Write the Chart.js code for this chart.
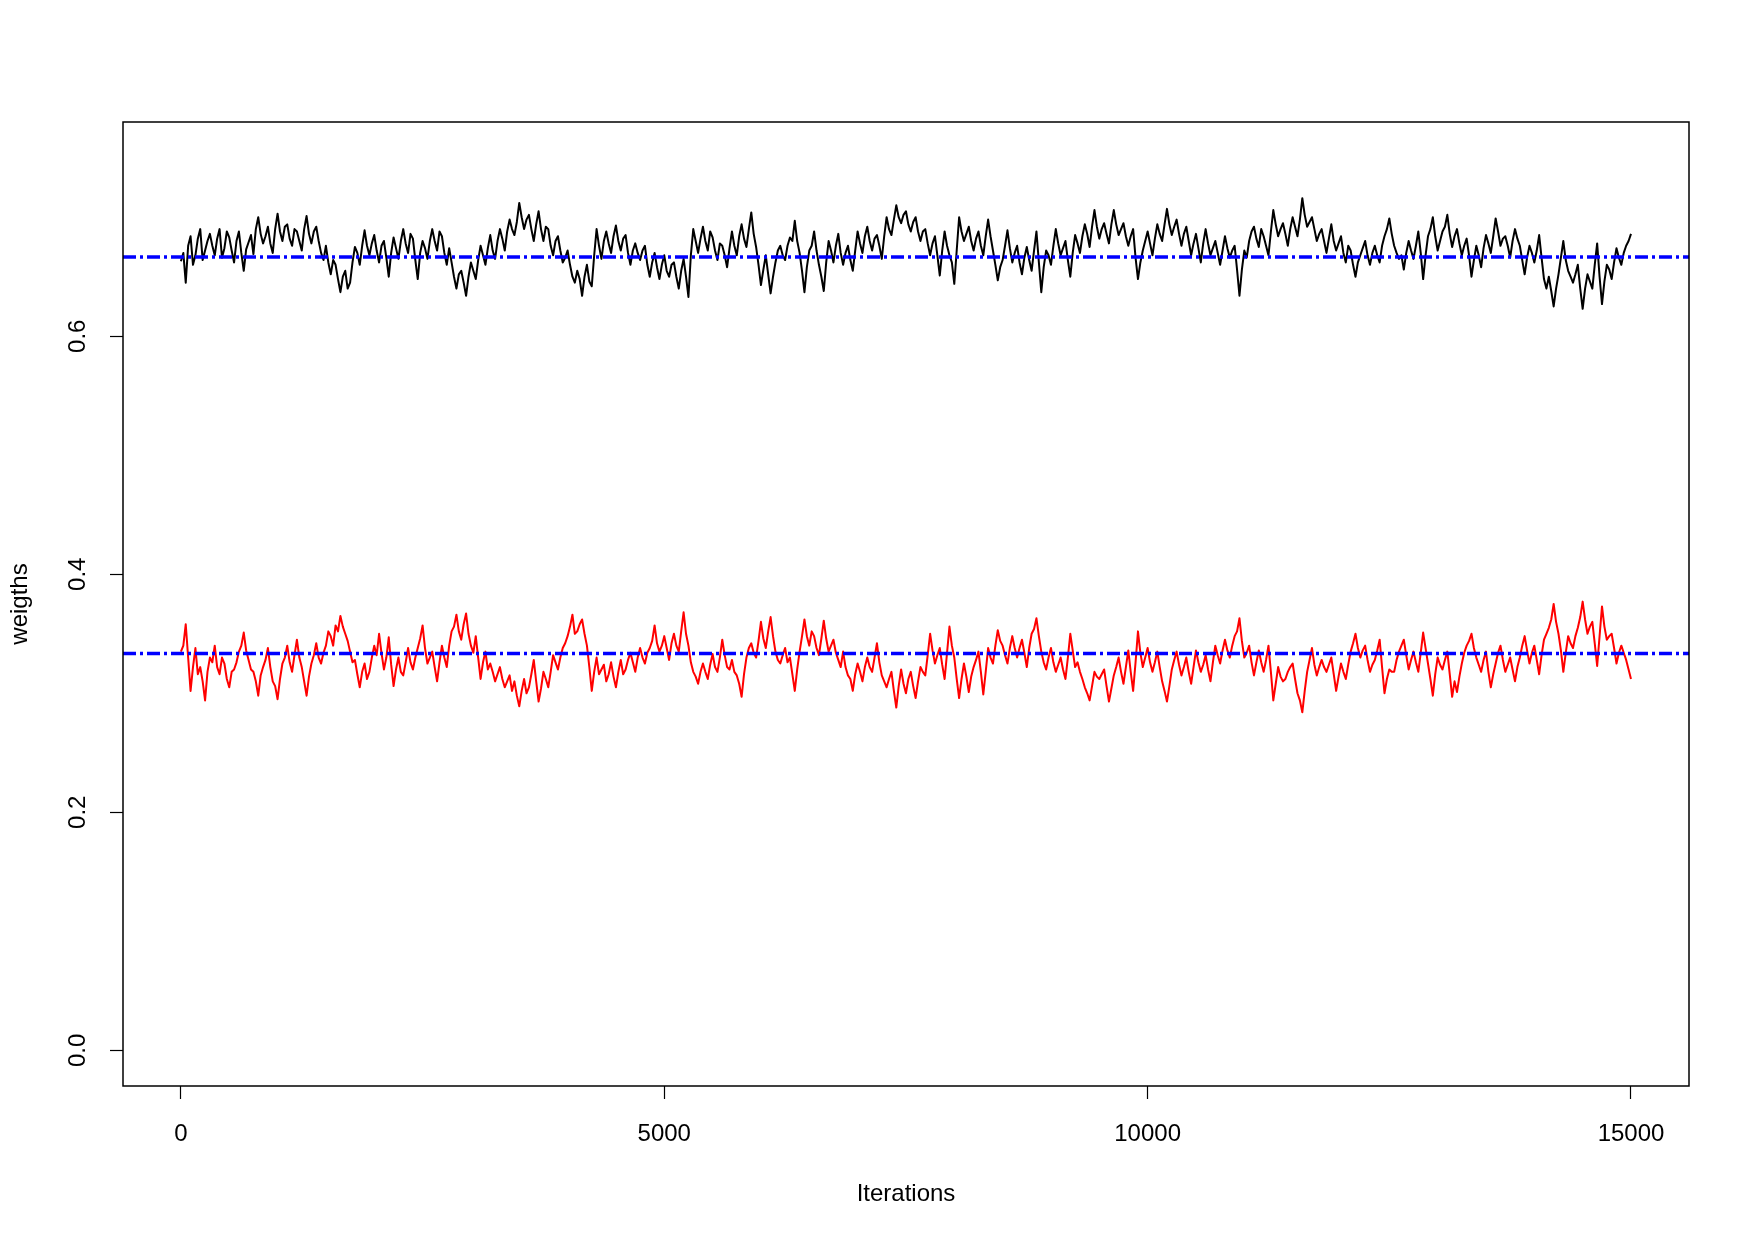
<!DOCTYPE html>
<html lang="en">
<head>
<meta charset="UTF-8">
<title>Weights trace</title>
<script src="https://cdn.jsdelivr.net/npm/chart.js@4.4.0/dist/chart.umd.min.js"></script>
<style>
  html, body { margin: 0; padding: 0; background: #ffffff; }
</style>
</head>
<body>
<canvas id="chart" width="1753" height="1240"></canvas>
<script>
// one value every STEP iterations
const STEP = 25;

const weightBlack = [
  0.663,0.670, 0.645,0.676, 0.684,0.660, 0.668,0.682, 0.690,0.664, 0.672,0.680, 0.686,0.676, 0.668,0.682, 0.690,0.666, 0.674,0.688, 0.683,0.672, 0.662,0.680, 0.688,0.670, 0.655,0.673, 0.679,0.685, 0.669,0.690, 0.700,0.686, 0.678,0.684, 0.692,0.678, 0.670,0.690,
  0.703,0.688, 0.680,0.692, 0.694,0.682, 0.676,0.690, 0.688,0.680, 0.672,0.690, 0.701,0.686, 0.678,0.688, 0.692,0.680, 0.670,0.664, 0.676,0.662, 0.652,0.664, 0.660,0.648, 0.637,0.650, 0.655,0.640, 0.645,0.662, 0.675,0.670, 0.660,0.676, 0.689,0.676, 0.668,0.678,
  0.685,0.672, 0.662,0.676, 0.680,0.666, 0.650,0.670, 0.683,0.674, 0.665,0.680, 0.690,0.678, 0.670,0.686, 0.682,0.664, 0.648,0.670, 0.680,0.674, 0.665,0.680, 0.690,0.680, 0.672,0.688, 0.684,0.670, 0.660,0.674, 0.662,0.650, 0.640,0.652, 0.655,0.645, 0.634,0.650,
  0.662,0.655, 0.648,0.664, 0.676,0.668, 0.660,0.674, 0.685,0.672, 0.665,0.680, 0.690,0.682, 0.672,0.688, 0.698,0.690, 0.685,0.696, 0.712,0.700, 0.690,0.698, 0.702,0.690, 0.680,0.694, 0.705,0.690, 0.680,0.692, 0.690,0.676, 0.668,0.680, 0.684,0.672, 0.662,0.666,
  0.672,0.660, 0.650,0.645, 0.655,0.648, 0.634,0.650, 0.660,0.646, 0.642,0.668, 0.690,0.676, 0.665,0.680, 0.688,0.678, 0.670,0.684, 0.693,0.680, 0.672,0.682, 0.685,0.670, 0.660,0.672, 0.678,0.670, 0.664,0.672, 0.676,0.660, 0.650,0.662, 0.670,0.658, 0.648,0.660,
  0.668,0.655, 0.650,0.660, 0.662,0.650, 0.640,0.655, 0.665,0.650, 0.633,0.668, 0.690,0.680, 0.670,0.682, 0.692,0.680, 0.672,0.688, 0.683,0.672, 0.664,0.678, 0.676,0.668, 0.658,0.674, 0.688,0.676, 0.668,0.684, 0.694,0.682, 0.675,0.690, 0.704,0.686, 0.675,0.660,
  0.643,0.656, 0.668,0.652, 0.636,0.650, 0.662,0.672, 0.676,0.668, 0.664,0.676, 0.683,0.680, 0.697,0.680, 0.670,0.655, 0.637,0.658, 0.672,0.676, 0.688,0.672, 0.660,0.650, 0.638,0.662, 0.680,0.672, 0.662,0.676, 0.686,0.670, 0.660,0.670, 0.676,0.664, 0.655,0.672,
  0.688,0.678, 0.670,0.684, 0.692,0.680, 0.672,0.682, 0.685,0.676, 0.665,0.684, 0.700,0.690, 0.685,0.698, 0.710,0.700, 0.695,0.702, 0.705,0.694, 0.688,0.696, 0.700,0.688, 0.680,0.688, 0.690,0.678, 0.668,0.678, 0.684,0.668, 0.651,0.672, 0.688,0.676, 0.668,0.662,
  0.644,0.672, 0.700,0.688, 0.680,0.686, 0.692,0.680, 0.672,0.682, 0.688,0.676, 0.668,0.684, 0.698,0.684, 0.672,0.660, 0.647,0.658, 0.664,0.676, 0.689,0.674, 0.662,0.670, 0.676,0.662, 0.652,0.666, 0.675,0.664, 0.655,0.672, 0.688,0.662, 0.637,0.658, 0.672,0.668,
  0.660,0.676, 0.690,0.678, 0.668,0.674, 0.680,0.664, 0.650,0.670, 0.685,0.678, 0.670,0.684, 0.694,0.686, 0.675,0.692, 0.706,0.692, 0.682,0.690, 0.695,0.686, 0.678,0.694, 0.706,0.694, 0.685,0.690, 0.695,0.684, 0.676,0.684, 0.690,0.666, 0.648,0.662, 0.672,0.680,
  0.688,0.678, 0.668,0.682, 0.694,0.686, 0.680,0.694, 0.707,0.694, 0.685,0.692, 0.698,0.686, 0.676,0.686, 0.692,0.680, 0.668,0.678, 0.686,0.674, 0.662,0.678, 0.690,0.678, 0.668,0.674, 0.680,0.670, 0.660,0.672, 0.684,0.674, 0.666,0.672, 0.676,0.656, 0.634,0.656,
  0.672,0.666, 0.680,0.688, 0.692,0.682, 0.675,0.690, 0.684,0.676, 0.668,0.688, 0.706,0.694, 0.684,0.690, 0.695,0.686, 0.676,0.690, 0.700,0.692, 0.684,0.698, 0.716,0.702, 0.692,0.696, 0.700,0.690, 0.680,0.686, 0.690,0.680, 0.670,0.682, 0.694,0.680, 0.672,0.678,
  0.684,0.670, 0.662,0.676, 0.672,0.660, 0.650,0.662, 0.668,0.674, 0.680,0.668, 0.660,0.670, 0.676,0.668, 0.662,0.676, 0.684,0.690, 0.699,0.686, 0.676,0.670, 0.665,0.668, 0.656,0.670, 0.680,0.672, 0.665,0.676, 0.688,0.670, 0.648,0.668, 0.684,0.690, 0.700,0.684,
  0.672,0.680, 0.688,0.692, 0.702,0.686, 0.675,0.684, 0.690,0.678, 0.668,0.676, 0.682,0.668, 0.650,0.664, 0.676,0.668, 0.658,0.674, 0.685,0.678, 0.670,0.684, 0.699,0.688, 0.676,0.682, 0.684,0.676, 0.666,0.680, 0.690,0.682, 0.676,0.664, 0.652,0.666, 0.676,0.670,
  0.662,0.672, 0.685,0.666, 0.648,0.640, 0.650,0.638, 0.625,0.640, 0.652,0.666, 0.680,0.664, 0.655,0.650, 0.645,0.652, 0.660,0.640, 0.623,0.640, 0.652,0.646, 0.640,0.660, 0.678,0.650, 0.627,0.646, 0.660,0.656, 0.648,0.662, 0.674,0.666, 0.660,0.670, 0.676,0.680,
  0.686
];

const weightRed = [
  0.335,0.340, 0.358,0.330, 0.302,0.322, 0.338,0.316, 0.322,0.310, 0.294,0.318, 0.330,0.326, 0.340,0.322, 0.316,0.330, 0.325,0.312, 0.305,0.318, 0.320,0.326, 0.335,0.340, 0.351,0.336, 0.328,0.320, 0.318,0.310, 0.298,0.315, 0.322,0.328, 0.338,0.322, 0.310,0.306,
  0.295,0.312, 0.325,0.330, 0.340,0.326, 0.318,0.332, 0.345,0.330, 0.322,0.310, 0.298,0.314, 0.325,0.332, 0.342,0.330, 0.325,0.334, 0.340,0.352, 0.348,0.340, 0.357,0.352, 0.365,0.356, 0.350,0.344, 0.335,0.326, 0.328,0.316, 0.305,0.318, 0.325,0.312, 0.318,0.330,
  0.340,0.332, 0.350,0.334, 0.320,0.330, 0.347,0.324, 0.306,0.320, 0.330,0.318, 0.315,0.326, 0.338,0.326, 0.320,0.330, 0.338,0.346, 0.357,0.338, 0.325,0.330, 0.335,0.322, 0.310,0.326, 0.340,0.330, 0.322,0.340, 0.352,0.356, 0.366,0.352, 0.345,0.358, 0.367,0.350,
  0.340,0.334, 0.348,0.330, 0.312,0.326, 0.335,0.320, 0.325,0.318, 0.310,0.316, 0.322,0.312, 0.305,0.310, 0.315,0.302, 0.310,0.298, 0.289,0.302, 0.312,0.300, 0.305,0.316, 0.328,0.310, 0.293,0.304, 0.318,0.312, 0.305,0.318, 0.332,0.326, 0.320,0.330, 0.338,0.342,
  0.348,0.356, 0.366,0.350, 0.352,0.358, 0.362,0.350, 0.340,0.322, 0.302,0.318, 0.330,0.316, 0.320,0.324, 0.310,0.316, 0.326,0.314, 0.305,0.318, 0.328,0.316, 0.320,0.328, 0.334,0.326, 0.318,0.330, 0.338,0.330, 0.325,0.334, 0.338,0.344, 0.357,0.342, 0.335,0.340,
  0.348,0.338, 0.328,0.342, 0.350,0.340, 0.335,0.352, 0.368,0.350, 0.340,0.326, 0.318,0.314, 0.308,0.318, 0.325,0.318, 0.312,0.324, 0.333,0.322, 0.318,0.330, 0.345,0.332, 0.322,0.320, 0.328,0.318, 0.315,0.308, 0.297,0.316, 0.330,0.338, 0.342,0.334, 0.330,0.344,
  0.360,0.346, 0.338,0.352, 0.364,0.348, 0.335,0.328, 0.325,0.332, 0.338,0.326, 0.330,0.316, 0.302,0.320, 0.335,0.348, 0.362,0.348, 0.340,0.352, 0.348,0.338, 0.332,0.346, 0.361,0.346, 0.335,0.340, 0.345,0.334, 0.328,0.322, 0.335,0.322, 0.315,0.312, 0.302,0.316,
  0.325,0.318, 0.310,0.322, 0.330,0.322, 0.318,0.330, 0.342,0.326, 0.315,0.310, 0.305,0.312, 0.318,0.302, 0.288,0.306, 0.320,0.308, 0.300,0.312, 0.318,0.306, 0.296,0.310, 0.322,0.318, 0.315,0.332, 0.350,0.336, 0.325,0.332, 0.338,0.324, 0.312,0.334, 0.356,0.340,
  0.330,0.312, 0.296,0.312, 0.325,0.314, 0.301,0.314, 0.322,0.328, 0.335,0.318, 0.299,0.318, 0.338,0.330, 0.325,0.340, 0.353,0.344, 0.340,0.332, 0.325,0.338, 0.348,0.338, 0.330,0.338, 0.345,0.334, 0.322,0.338, 0.350,0.354, 0.363,0.348, 0.335,0.326, 0.320,0.330,
  0.338,0.326, 0.318,0.324, 0.330,0.320, 0.312,0.330, 0.350,0.336, 0.322,0.326, 0.318,0.312, 0.305,0.300, 0.294,0.306, 0.318,0.314, 0.312,0.316, 0.320,0.306, 0.293,0.304, 0.315,0.322, 0.330,0.318, 0.308,0.322, 0.336,0.318, 0.302,0.326, 0.352,0.334, 0.322,0.330,
  0.338,0.326, 0.318,0.326, 0.335,0.322, 0.310,0.302, 0.293,0.306, 0.320,0.328, 0.335,0.324, 0.315,0.322, 0.330,0.318, 0.308,0.322, 0.336,0.326, 0.318,0.324, 0.332,0.320, 0.310,0.326, 0.340,0.332, 0.325,0.336, 0.345,0.336, 0.330,0.340, 0.348,0.352, 0.363,0.344,
  0.330,0.334, 0.340,0.326, 0.315,0.326, 0.336,0.326, 0.318,0.328, 0.340,0.318, 0.294,0.308, 0.322,0.314, 0.310,0.312, 0.318,0.322, 0.325,0.312, 0.300,0.294, 0.284,0.302, 0.318,0.328, 0.338,0.324, 0.315,0.322, 0.328,0.322, 0.318,0.324, 0.330,0.316, 0.302,0.314,
  0.325,0.318, 0.312,0.324, 0.335,0.342, 0.350,0.338, 0.330,0.336, 0.340,0.328, 0.318,0.324, 0.328,0.336, 0.345,0.322, 0.300,0.312, 0.320,0.318, 0.318,0.328, 0.335,0.340, 0.345,0.332, 0.320,0.328, 0.335,0.326, 0.318,0.334, 0.351,0.338, 0.325,0.312, 0.298,0.316,
  0.330,0.324, 0.320,0.328, 0.335,0.316, 0.297,0.310, 0.301,0.314, 0.325,0.334, 0.340,0.344, 0.350,0.338, 0.330,0.324, 0.318,0.328, 0.335,0.318, 0.305,0.316, 0.325,0.334, 0.340,0.328, 0.318,0.324, 0.330,0.320, 0.310,0.322, 0.330,0.340, 0.348,0.336, 0.325,0.334,
  0.340,0.328, 0.316,0.332, 0.345,0.350, 0.355,0.362, 0.375,0.360, 0.350,0.336, 0.318,0.334, 0.348,0.342, 0.338,0.348, 0.355,0.364, 0.377,0.362, 0.350,0.356, 0.360,0.342, 0.323,0.348, 0.373,0.356, 0.345,0.348, 0.350,0.338, 0.325,0.334, 0.340,0.334, 0.328,0.320,
  0.312
];

// true weights (blue dot-dash lines)
const trueWeights = [2 / 3, 1 / 3];

const xTicks = [0, 5000, 10000, 15000];
const yTicks = [0, 0.2, 0.4, 0.6];
const xLimits = [-599, 15600];
const yLimits = [-0.03, 0.78];

const FONT = { family: "'Liberation Sans', Arial, Helvetica, sans-serif", size: 24 };

const toPoints = vals => vals.map((v, i) => ({ x: i * STEP, y: v }));
const hline = v => [{ x: xLimits[0], y: v }, { x: xLimits[1], y: v }];

// draws the full box around the plot region, like R's box()
const boxPlugin = {
    id: 'box',
    afterDraw(chart) {
        const a = chart.chartArea;
        const ctx = chart.ctx;
        ctx.save();
        ctx.strokeStyle = '#000';
        ctx.lineWidth = 1.5;
        ctx.strokeRect(a.left, a.top, a.right - a.left, a.bottom - a.top);
        ctx.restore();
    }
};

const ctx = document.getElementById('chart').getContext('2d');
new Chart(ctx, {
    type: 'line',
    data: {
        datasets: [
            ...trueWeights.map(w => ({
                data: hline(w),
                borderColor: '#0000ff',
                borderWidth: 3.5,
                borderDash: [13, 4, 3, 4],
                pointRadius: 0,
                order: 0
            })),
            {
                data: toPoints(weightRed),
                borderColor: '#ff0000',
                borderWidth: 2,
                borderJoinStyle: 'round',
                pointRadius: 0,
                order: 1
            },
            {
                data: toPoints(weightBlack),
                borderColor: '#000000',
                borderWidth: 2,
                borderJoinStyle: 'round',
                pointRadius: 0,
                order: 2
            }
        ]
    },
    options: {
        responsive: false,
        animation: false,
        devicePixelRatio: 1,
        layout: { padding: { top: 122, right: 64, left: 0, bottom: 0 } },
        plugins: {
            legend: { display: false },
            tooltip: { enabled: false }
        },
        scales: {
            x: {
                type: 'linear',
                min: xLimits[0],
                max: xLimits[1],
                afterBuildTicks: s => { s.ticks = xTicks.map(v => ({ value: v })); },
                afterFit: s => { s.height = 154; },
                grid: { drawOnChartArea: false, drawTicks: true, tickLength: 13, tickColor: '#000', tickWidth: 1.2 },
                border: { display: false },
                ticks: { color: '#000', font: FONT, maxRotation: 0, padding: 21, callback: v => String(v) },
                title: { display: true, text: 'Iterations', color: '#000', font: FONT, padding: { top: 0, bottom: 31 } }
            },
            y: {
                type: 'linear',
                min: yLimits[0],
                max: yLimits[1],
                afterBuildTicks: s => { s.ticks = yTicks.map(v => ({ value: v })); },
                afterFit: s => { s.width = 123; },
                grid: { drawOnChartArea: false, drawTicks: true, tickLength: 13, tickColor: '#000', tickWidth: 1.2 },
                border: { display: false },
                ticks: { color: '#000', font: FONT, minRotation: 90, maxRotation: 90, crossAlign: 'center', padding: 15, callback: v => v.toFixed(1) },
                title: { display: true, text: 'weigths', color: '#000', font: FONT, padding: { top: 6, bottom: 0 } }
            }
        }
    },
    plugins: [boxPlugin]
});
</script>
</body>
</html>
